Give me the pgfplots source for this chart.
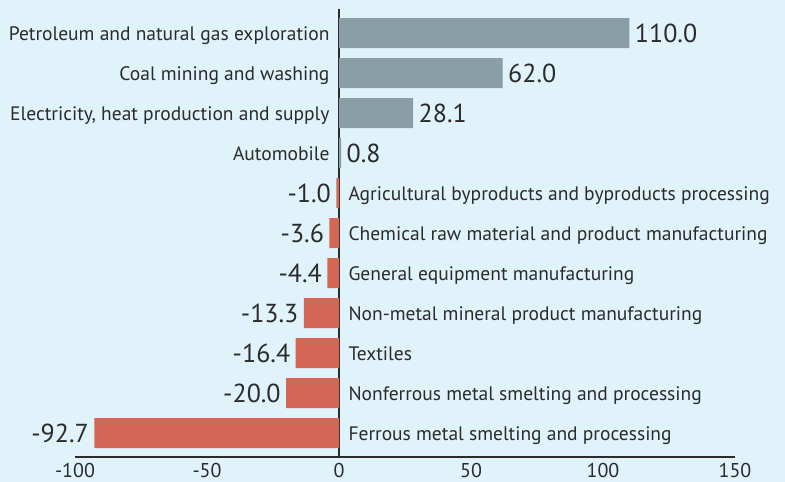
\documentclass[border=0pt]{standalone}
\usepackage{pgfplots}
\pgfplotsset{compat=1.18}
\usepackage{pgfplotstable}
\usepackage{fontspec}
\setmainfont{PT Sans}
\definecolor{bg}{HTML}{E0F2FA}
\definecolor{posc}{HTML}{8A9EA6}
\definecolor{negc}{HTML}{D36655}
\definecolor{txt}{HTML}{2B2B2B}

\pgfplotstableread[col sep=semicolon]{
y;val;lab
0;110.0;Petroleum and natural gas exploration
1;62.0;Coal mining and washing
2;28.1;Electricity, heat production and supply
3;0.8;Automobile
}\pos
\pgfplotstableread[col sep=semicolon]{
y;val;lab
4;-1.0;Agricultural byproducts and byproducts processing
5;-3.6;Chemical raw material and product manufacturing
6;-4.4;General equipment manufacturing
7;-13.3;Non-metal mineral product manufacturing
8;-16.4;Textiles
9;-20.0;Nonferrous metal smelting and processing
10;-92.7;Ferrous metal smelting and processing
}\neg

\begin{document}
\begin{tikzpicture}[x=1pt,y=1pt]
\useasboundingbox (0,0) rectangle (785,482);
\fill[bg] (0,0) rectangle (785,482);
\begin{axis}[
  at={(75pt,25pt)}, anchor=south west,
  scale only axis, width=660pt, height=448pt,
  xmin=-100, xmax=150, ymin=-0.6, ymax=10.6,
  y dir=reverse,
  axis y line=none,
  axis x line*=bottom,
  axis line style={txt, line width=2pt},
  xtick={-100,-50,0,50,100,150},
  major tick length=0pt,
  ticklabel style={font=\fontsize{20}{20}\selectfont, text=txt},
  /pgf/number format/assume math mode=true,
  xticklabel style={anchor=base, yshift=-20pt},
  extra x ticks={0}, extra x tick labels={},
  extra x tick style={grid=major, major grid style={txt, line width=2pt}},
  clip=false,
]
\addplot[xbar, bar width=30pt, fill=posc, draw=none,
  nodes near coords, point meta=explicit symbolic,
  nodes near coords style={anchor=base west, xshift=2pt, yshift=-9pt, text=txt, font=\fontsize{26}{26}\selectfont}]
  table[x=val, y=y, meta=val] {\pos};
\addplot[xbar, bar width=30pt, fill=negc, draw=none,
  nodes near coords, point meta=explicit symbolic,
  nodes near coords style={anchor=base east, xshift=-2pt, yshift=-9pt, text=txt, font=\fontsize{26}{26}\selectfont}]
  table[x=val, y=y, meta=val] {\neg};
\addplot[draw=none, mark=none,
  nodes near coords, point meta=explicit symbolic,
  nodes near coords style={anchor=base east, xshift=-6pt, yshift=-7pt, text=txt, font=\fontsize{19.5}{19.5}\selectfont}]
  table[x expr=0, y=y, meta=lab] {\pos};
\addplot[draw=none, mark=none,
  nodes near coords, point meta=explicit symbolic,
  nodes near coords style={anchor=base west, xshift=6pt, yshift=-7pt, text=txt, font=\fontsize{19.5}{19.5}\selectfont}]
  table[x expr=0, y=y, meta=lab] {\neg};
\end{axis}
\end{tikzpicture}
\end{document}
